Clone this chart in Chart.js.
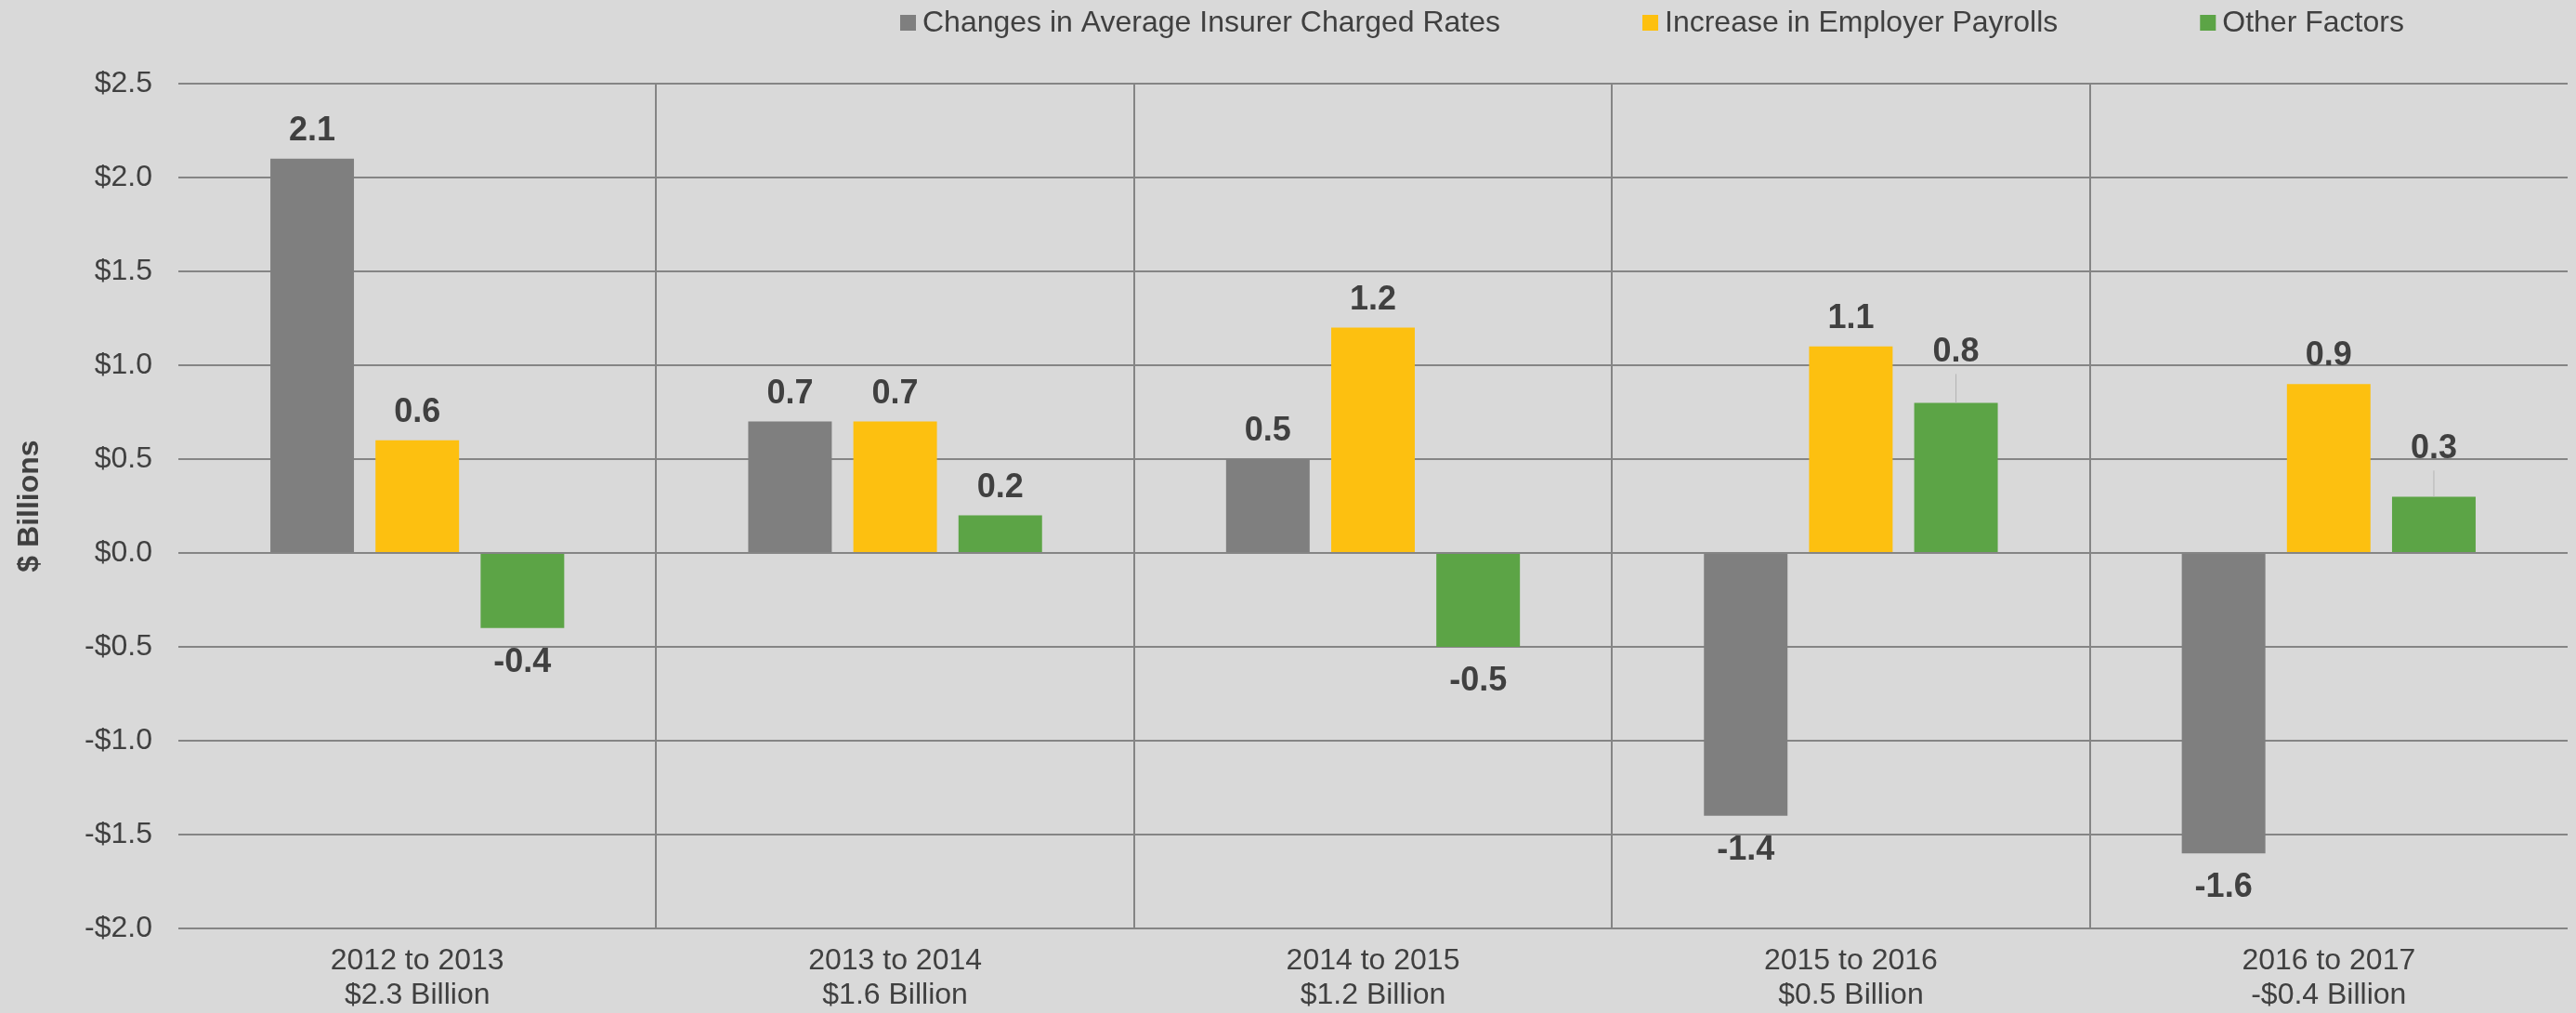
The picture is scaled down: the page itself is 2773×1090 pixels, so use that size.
<!DOCTYPE html>
<html>
<head>
<meta charset="utf-8">
<script src="https://cdn.jsdelivr.net/npm/chart.js@4/dist/chart.umd.min.js"></script>
<style>
  html, body { margin: 0; padding: 0; background: #d9d9d9; }
  #wrap { width: 2773px; height: 1090px; position: relative; }
</style>
</head>
<body>
<div id="wrap"><canvas id="chart"></canvas></div>
<script>
// chart data
const categories = [
  ['2012 to 2013', '$2.3 Billion'],
  ['2013 to 2014', '$1.6 Billion'],
  ['2014 to 2015', '$1.2 Billion'],
  ['2015 to 2016', '$0.5 Billion'],
  ['2016 to 2017', '-$0.4 Billion']
];
const seriesNames = ['Changes in Average Insurer Charged Rates', 'Increase in Employer Payrolls', 'Other Factors'];
const insurerRates = [2.1, 0.7, 0.5, -1.4, -1.6];
const employerPayrolls = [0.6, 0.7, 1.2, 1.1, 0.9];
const otherFactors = [-0.4, 0.2, -0.5, 0.8, 0.3];
const yMin = -2.0;
const yMax = 2.5;
const yStep = 0.5;

const FONT = '"Liberation Sans", Arial, sans-serif';
const TEXT = '#404040';
const GRID = '#858585';
const colors = ['#7f7f7f', '#fdc010', '#5ca446'];

// labels above / below each bar, some lifted with a thin leader line
const barLabels = {
  id: 'barLabels',
  afterDatasetsDraw(chart, args, opts) {
    const ctx = chart.ctx;
    const cap = opts.size * 0.716;
    ctx.save();
    ctx.font = 'bold ' + opts.size + 'px ' + FONT;
    ctx.fillStyle = TEXT;
    ctx.textAlign = 'center';
    ctx.textBaseline = 'alphabetic';
    chart.data.datasets.forEach((ds, di) => {
      const meta = chart.getDatasetMeta(di);
      meta.data.forEach((bar, i) => {
        const v = ds.data[i];
        const lifted = opts.lifted.find(l => l.dataset === di && l.index === i);
        const lift = lifted ? lifted.lift : 0;
        if (v >= 0) {
          const y = bar.y - opts.gap - lift;
          ctx.fillText(v.toFixed(1), bar.x, y);
          if (lifted) {
            ctx.save();
            ctx.strokeStyle = '#b4b4b4';
            ctx.lineWidth = 1;
            ctx.beginPath();
            ctx.moveTo(bar.x, bar.y);
            ctx.lineTo(bar.x, y + 13);
            ctx.stroke();
            ctx.restore();
          }
        } else {
          ctx.fillText(v.toFixed(1), bar.x, bar.y + opts.gap + 1 + cap);
        }
      });
    });
    ctx.restore();
  }
};

// legend drawn across the top
const topLegend = {
  id: 'topLegend',
  afterDraw(chart, args, opts) {
    const ctx = chart.ctx;
    ctx.save();
    ctx.font = opts.size + 'px ' + FONT;
    ctx.textBaseline = 'middle';
    ctx.textAlign = 'left';
    let x = opts.x;
    chart.data.datasets.forEach(ds => {
      ctx.fillStyle = ds.backgroundColor;
      ctx.fillRect(x, opts.y - 8, 17, 17);
      ctx.fillStyle = TEXT;
      ctx.fillText(ds.label, x + 24, opts.y + 1);
      x += 24 + ctx.measureText(ds.label).width + opts.gap;
    });
    ctx.restore();
  }
};

const data = {
  labels: categories,
  datasets: [
    { label: seriesNames[0], data: insurerRates, backgroundColor: colors[0] },
    { label: seriesNames[1], data: employerPayrolls, backgroundColor: colors[1] },
    { label: seriesNames[2], data: otherFactors, backgroundColor: colors[2] }
  ]
};

new Chart(document.getElementById('chart'), {
  type: 'bar',
  data: data,
  plugins: [barLabels, topLegend],
  options: {
    responsive: true,
    maintainAspectRatio: false,
    animation: false,
    layout: { padding: { top: 90, right: 9, left: 0, bottom: 0 } },
    datasets: {
      bar: { categoryPercentage: 0.66, barPercentage: 0.795, borderWidth: 0 }
    },
    plugins: {
      legend: { display: false },
      tooltip: { enabled: false },
      barLabels: {
        size: 36,
        gap: 20,
        lifted: [
          { dataset: 2, index: 3, lift: 24 },
          { dataset: 2, index: 4, lift: 21 }
        ]
      },
      topLegend: { x: 969, y: 24, size: 32, gap: 153 }
    },
    scales: {
      x: {
        afterFit: s => { s.height = 91; },
        grid: {
          offset: true,
          drawTicks: false,
          lineWidth: 2,
          color: c => (c.index === undefined || c.index === 0) ? 'rgba(0,0,0,0)' : GRID
        },
        border: { display: false },
        ticks: {
          color: TEXT,
          padding: 17,
          font: { family: FONT, size: 32, lineHeight: 1.15 }
        }
      },
      y: {
        min: yMin,
        max: yMax,
        afterFit: s => { s.width = 192; },
        grid: { drawTicks: false, lineWidth: 2, color: GRID },
        border: { display: false },
        ticks: {
          stepSize: yStep,
          padding: 28,
          color: TEXT,
          font: { family: FONT, size: 32 },
          callback: v => (v < 0 ? '-$' : '$') + Math.abs(v).toFixed(1)
        },
        title: {
          display: true,
          text: '$ Billions',
          color: TEXT,
          padding: { top: 13, bottom: 0 },
          font: { family: FONT, size: 32, weight: 'bold' }
        }
      }
    }
  }
});
</script>
</body>
</html>
